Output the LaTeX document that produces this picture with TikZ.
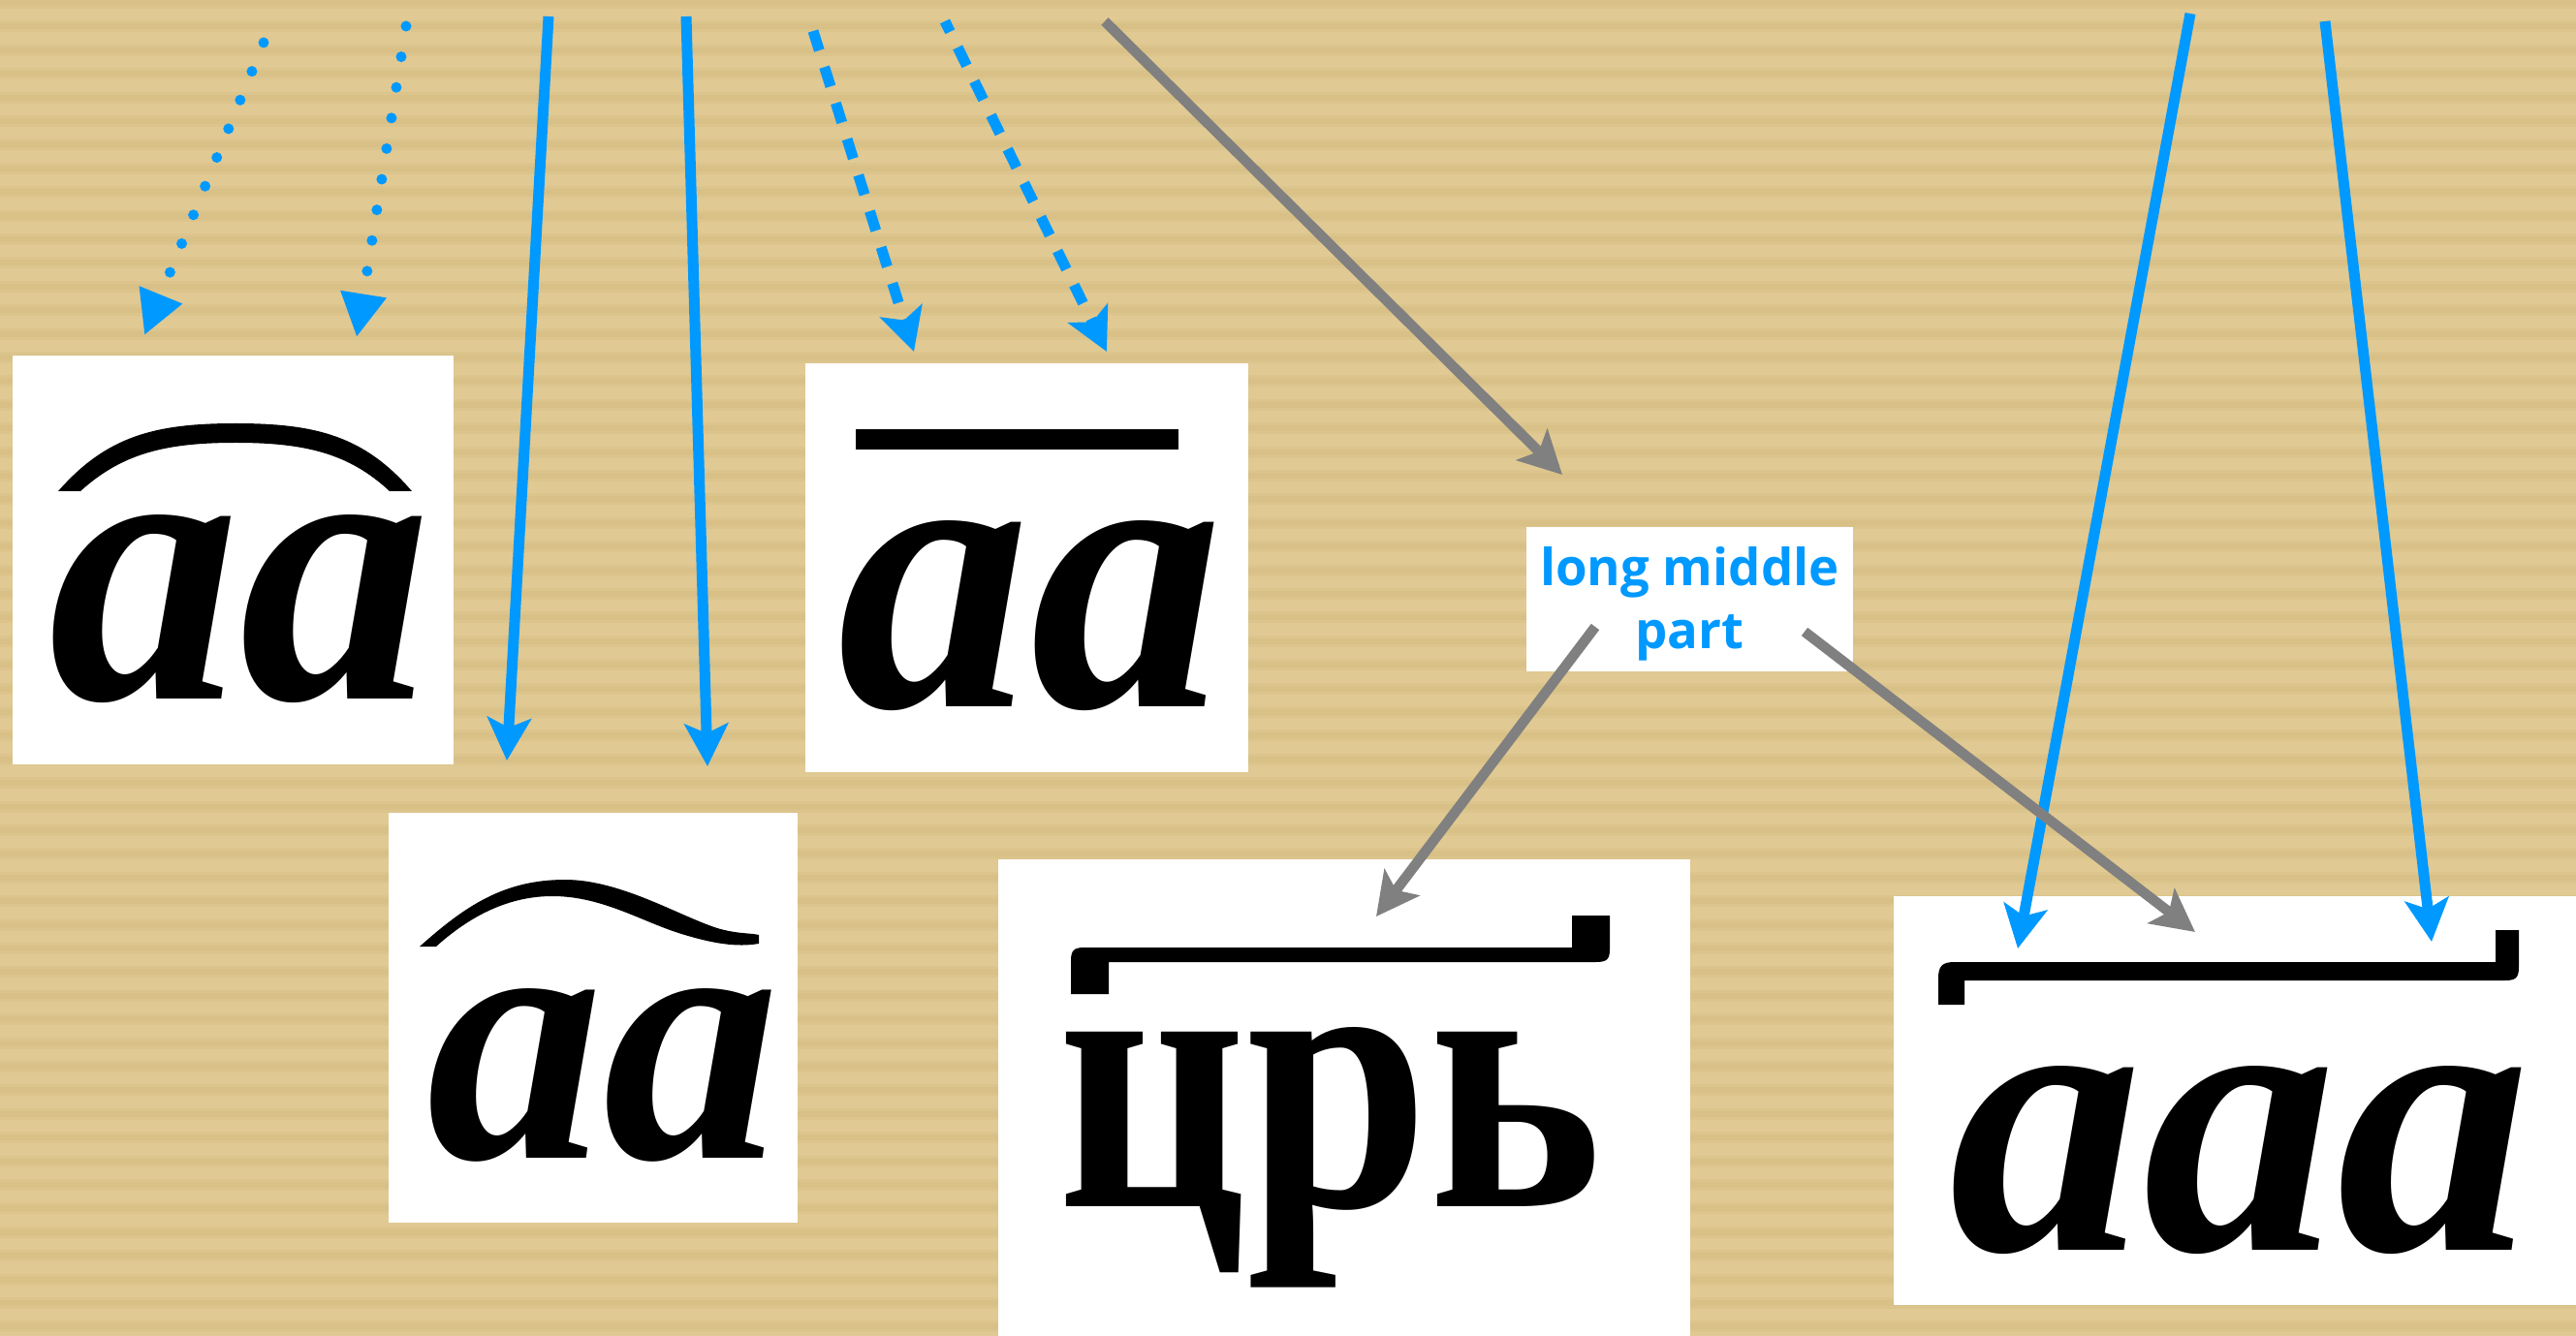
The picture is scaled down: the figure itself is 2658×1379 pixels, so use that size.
\documentclass[tikz,border=0pt]{standalone}
\usepackage{fontspec}
\usepackage{graphicx}
\usetikzlibrary{arrows.meta}
\newfontfamily\glyphfont{Liberation Serif}
\newfontfamily\labelfont{Open Sans}
\definecolor{bgtan}{RGB}{224,201,146}
\definecolor{bgstripe}{RGB}{208,182,122}
\definecolor{arrowblue}{RGB}{0,153,255}
\definecolor{arrowgray}{RGB}{128,128,128}
\tikzset{
  whitebox/.style={fill=white, draw=none, inner sep=0pt},
  glyph/.style={inner sep=0pt, anchor=base, font=\glyphfont\bfseries\itshape},
  glyphup/.style={inner sep=0pt, anchor=base, font=\glyphfont\bfseries},
  labeltext/.style={inner sep=0pt, align=center, text=arrowblue,
    font=\labelfont\bfseries\fontsize{15pt}{18.5pt}\selectfont},
  tipS/.tip={Stealth[length=4.4mm,width=4.5mm,inset=1mm]},
  solidblue/.style={draw=arrowblue, line width=1.1mm, -tipS, arrowblue},
  grayarrow/.style={draw=arrowgray, line width=1.05mm, -tipS, arrowgray},
  dasharrow/.style={draw=arrowblue, line width=1.1mm, dash pattern=on 2.1mm off 1.8mm, -tipS, arrowblue},
  dotarrow/.style={draw=arrowblue, line width=1.1mm, line cap=round, dash pattern=on 0pt off 3.2mm,
    -{Triangle[length=4.5mm,width=4.5mm]}, arrowblue},
}
\begin{document}
\begin{tikzpicture}[x=0.1mm,y=-0.1mm]
\useasboundingbox (0,0) rectangle (2658,1379);
% background
\fill[bgtan] (0,0) rectangle (2658,1379);
\foreach \k in {0,...,56} {
  \fill[bgstripe,opacity=0.2] (0,{3+\k*24.4-6}) rectangle (2658,{3+\k*24.4+6});
  \fill[bgstripe,opacity=0.3] (0,{3+\k*24.4-3}) rectangle (2658,{3+\k*24.4+3});
}
% white boxes
\node[whitebox, minimum width=45.5mm, minimum height=42.2mm] (box1) at (240.5,578) {};
\node[whitebox, minimum width=42.2mm, minimum height=42.3mm] (box2) at (612,1050.5) {};
\node[whitebox, minimum width=45.7mm, minimum height=42.2mm] (box3) at (1059.5,586) {};
\node[whitebox, minimum width=71.4mm, minimum height=49.2mm] (box4) at (1387,1133) {};
\node[whitebox, minimum width=70.4mm, minimum height=42.2mm] (box5) at (2306,1136) {};
\node[whitebox, minimum width=33.7mm, minimum height=14.9mm] (lbl) at (1743.5,618.5) {};
\node[labeltext] (lbltxt) at (1743.5,623.5) {long middle\\part};
% glyphs
\node[glyph] (g1) at (247.5,722) {\resizebox{39.5mm}{19mm}{аа}};
\node[glyph] (g2) at (622.5,1195) {\resizebox{36.5mm}{17.5mm}{аа}};
\node[glyph] (g3) at (1063,730) {\resizebox{39.8mm}{19.2mm}{аа}};
\node[glyphup] (g4) at (1373,1245) {\resizebox{56.2mm}{18.5mm}{црь}};
\node[glyph] (g5) at (2311,1290) {\resizebox{60mm}{19mm}{ааа}};
% marks
\fill (60,507) .. controls (110,450) and (160,437) .. (243,437)
  .. controls (326,437) and (376,450) .. (425,507) -- (402,507)
  .. controls (360,468) and (315,457) .. (243,457)
  .. controls (171,457) and (126,468) .. (83,507) -- cycle;
\fill (433,977) .. controls (480,935) and (520,908) .. (583,908)
  .. controls (640,908) and (700,945) .. (740,958)
  .. controls (760,964) and (775,963) .. (783,965) -- (783,974)
  .. controls (760,978) and (735,974) .. (700,963)
  .. controls (660,950) and (620,925) .. (570,925)
  .. controls (520,925) and (480,950) .. (450,977) -- cycle;
\fill (883,443) rectangle (1216,464);
\fill (1105,1026) -- (1105,992) .. controls (1105,981) and (1108,978) .. (1119,978)
  -- (1622,978) -- (1622,945) -- (1661,945) -- (1661,980)
  .. controls (1661,990) and (1658,993) .. (1647,993) -- (1144,993) -- (1144,1026) -- cycle;
\fill (2000,1037) -- (2000,1010) .. controls (2000,997) and (2004,993) .. (2017,993)
  -- (2575,993) -- (2575,960) -- (2599,960) -- (2599,998)
  .. controls (2599,1009) and (2596,1012) .. (2585,1012) -- (2027,1012) -- (2027,1037) -- cycle;
% arrow end points
\coordinate (a1s) at (272,44);   \coordinate (a1e) at (149,346);
\coordinate (a2s) at (419,27);   \coordinate (a2e) at (368,348);
\coordinate (b1s) at (839,32);   \coordinate (b1e) at (943,363);
\coordinate (b2s) at (975,22);   \coordinate (b2e) at (1142,363);
\coordinate (cs)  at (1140,22);  \coordinate (ce)  at (1612,490);
\coordinate (d1s) at (566,17);   \coordinate (d1e) at (523,785);
\coordinate (d2s) at (708,17);   \coordinate (d2e) at (730,791);
\coordinate (e1s) at (2260,14);  \coordinate (e1e) at (2082,979);
\coordinate (e2s) at (2399,22);  \coordinate (e2e) at (2509,972);
\coordinate (f1s) at (1646,647); \coordinate (f1e) at (1420,946);
\coordinate (f2s) at (1862,652); \coordinate (f2e) at (2265,962);
% arrows
\draw[dotarrow] (a1s) -- (a1e);
\draw[dotarrow] (a2s) -- (a2e);
\draw[dasharrow] (b1s) -- (b1e);
\draw[dasharrow, dash phase=0.9mm] (b2s) -- (b2e);
\draw[grayarrow] (cs) -- (ce);
\draw[solidblue] (d1s) -- (d1e);
\draw[solidblue] (d2s) -- (d2e);
\draw[solidblue] (e1s) -- (e1e);
\draw[solidblue] (e2s) -- (e2e);
\draw[grayarrow] (f1s) -- (f1e);
\draw[grayarrow] (f2s) -- (f2e);
\end{tikzpicture}
\end{document}
